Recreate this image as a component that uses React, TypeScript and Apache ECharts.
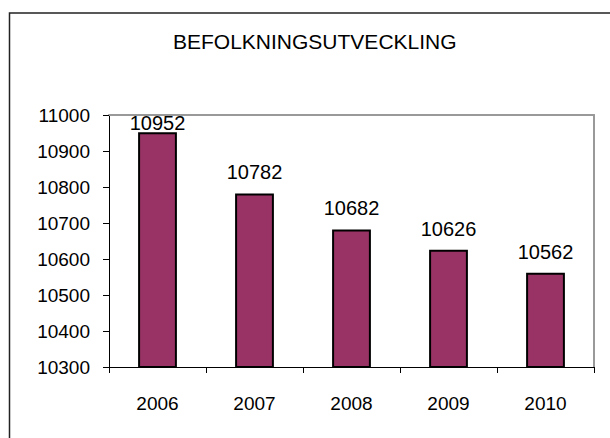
import React, { useEffect, useRef } from "react";
import * as echarts from "echarts";

const title = "BEFOLKNINGSUTVECKLING";
const years = ["2006", "2007", "2008", "2009", "2010"];
const population = [10952, 10782, 10682, 10626, 10562];
const yMin = 10300;
const yMax = 11000;
const yStep = 100;

const FONT = "'Liberation Sans', Arial, sans-serif";

export default function App() {
  const ref = useRef<HTMLDivElement>(null);
  useEffect(() => {
    if (!ref.current) return;
    const chart = echarts.init(ref.current, undefined, { renderer: "svg" });
    const gridTop = 115;
    const gridBottom = 71;
    const plotH = 438 - gridTop - gridBottom;
    const labelSize = 20;
    const normalDist = 11;
    const data = population.map((v) => {
      const room = ((yMax - v) / (yMax - yMin)) * plotH;
      const dist = room < normalDist + labelSize ? -1 : normalDist;
      return { value: v, label: { distance: dist } };
    });
    chart.setOption({
      animation: false,
      backgroundColor: "#ffffff",
      title: {
        text: title,
        left: 173,
        top: 31,
        padding: 0,
        textStyle: { fontFamily: FONT, fontSize: 21, fontWeight: "normal", color: "#000" },
      },
      graphic: [
        {
          type: "rect",
          shape: { x: 9.5, y: 13, width: 700, height: 500 },
          style: { fill: "none", stroke: "#222", lineWidth: 1.5 },
          silent: true,
        },
      ],
      grid: { left: 109, top: gridTop, right: 16, bottom: gridBottom },
      xAxis: [
        {
          type: "category",
          data: years,
          axisLine: { lineStyle: { color: "#000", width: 1 } },
          axisTick: { show: true, length: 6, lineStyle: { color: "#000" } },
          axisLabel: { fontFamily: FONT, fontSize: 19, color: "#000", margin: 27 },
        },
        {
          type: "category",
          position: "top",
          data: years,
          axisLine: { show: true, lineStyle: { color: "#999", width: 2 } },
          axisTick: { show: false },
          axisLabel: { show: false },
        },
      ],
      yAxis: [
        {
          type: "value",
          min: yMin,
          max: yMax,
          interval: yStep,
          axisLine: { show: true, lineStyle: { color: "#000", width: 1 } },
          axisTick: { show: true, length: 6, lineStyle: { color: "#000" } },
          axisLabel: {
            fontFamily: FONT,
            fontSize: 19,
            color: "#000",
            margin: 19,
            formatter: (v: number) => String(v),
          },
          splitLine: { show: false },
        },
        {
          type: "value",
          position: "right",
          min: yMin,
          max: yMax,
          interval: yStep,
          axisLine: { show: true, lineStyle: { color: "#999", width: 2 } },
          axisTick: { show: false },
          axisLabel: { show: false },
          splitLine: { show: false },
        },
      ],
      series: [
        {
          type: "bar",
          data,
          barWidth: "40%",
          itemStyle: { color: "#993366", borderColor: "#000", borderWidth: 2 },
          label: {
            show: true,
            position: "top",
            fontFamily: FONT,
            fontSize: labelSize,
            color: "#000",
          },
        },
      ],
    });
    return () => chart.dispose();
  }, []);
  return (
    <div
      ref={ref}
      style={{ position: "fixed", left: 0, top: 0, width: 610, height: 438 }}
    />
  );
}
